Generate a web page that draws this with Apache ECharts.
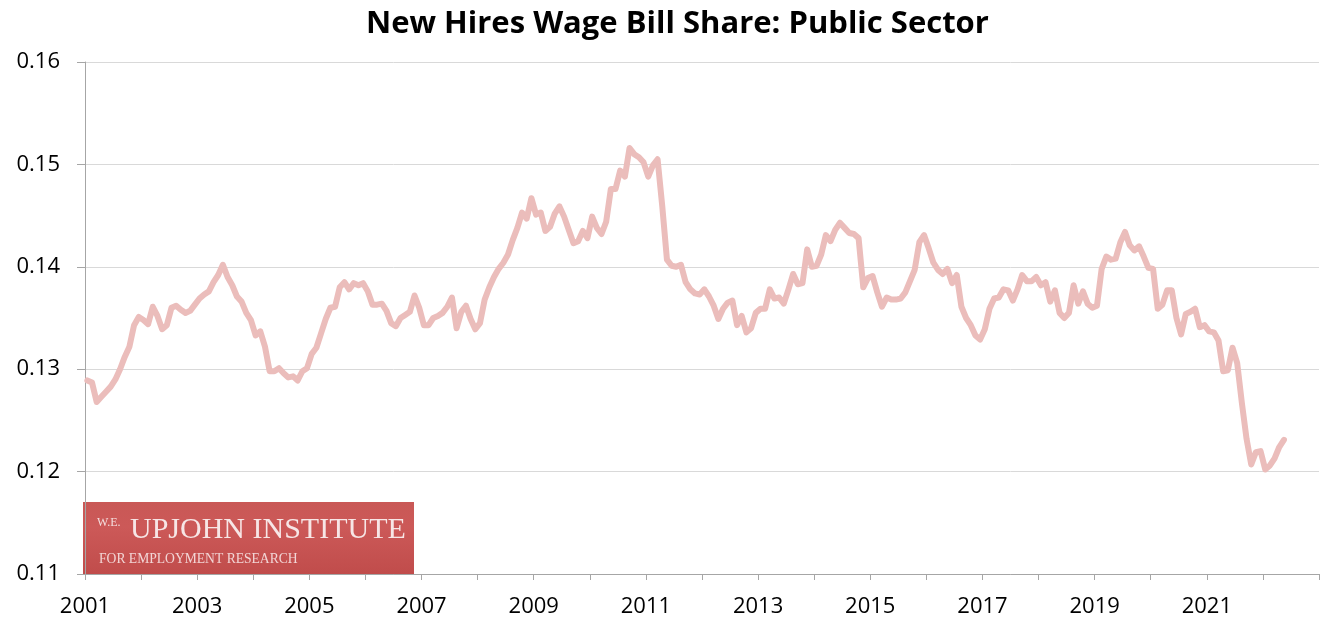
<!DOCTYPE html>
<html>
<head>
<meta charset="utf-8">
<title>New Hires Wage Bill Share: Public Sector</title>
<script src="https://cdn.jsdelivr.net/npm/echarts@6/dist/echarts.min.js"></script>
<style>
  html, body { margin: 0; padding: 0; background: #fff; }
  #main { width: 1322px; height: 621px; }
</style>
</head>
<body>
<div id="main"></div>
<script>
// monthly series, first value is January 2001 (plotted at mid-month)
var startYear = 2001
var share = [
  0.1289, 0.1287, 0.1268, 0.1273, 0.1278, 0.1283, 0.1290, 0.1300, 0.1312, 0.1322, 0.1343, 0.1351, // 2001
  0.1348, 0.1344, 0.1361, 0.1352, 0.1339, 0.1343, 0.1360, 0.1362, 0.1358, 0.1355, 0.1357, 0.1363, // 2002
  0.1369, 0.1373, 0.1376, 0.1385, 0.1392, 0.1402, 0.1390, 0.1382, 0.1371, 0.1366, 0.1355, 0.1348, // 2003
  0.1333, 0.1337, 0.1322, 0.1298, 0.1298, 0.1301, 0.1296, 0.1292, 0.1293, 0.1289, 0.1298, 0.1301, // 2004
  0.1315, 0.1321, 0.1335, 0.1349, 0.1360, 0.1361, 0.1380, 0.1385, 0.1378, 0.1384, 0.1382, 0.1384, // 2005
  0.1376, 0.1363, 0.1363, 0.1364, 0.1357, 0.1345, 0.1342, 0.1350, 0.1353, 0.1356, 0.1372, 0.1360, // 2006
  0.1343, 0.1343, 0.1350, 0.1352, 0.1355, 0.1361, 0.1370, 0.1340, 0.1356, 0.1362, 0.1349, 0.1339, // 2007
  0.1345, 0.1368, 0.1380, 0.1390, 0.1398, 0.1404, 0.1412, 0.1426, 0.1438, 0.1453, 0.1447, 0.1467, // 2008
  0.1451, 0.1453, 0.1435, 0.1439, 0.1452, 0.1459, 0.1449, 0.1436, 0.1423, 0.1425, 0.1435, 0.1428, // 2009
  0.1449, 0.1438, 0.1432, 0.1444, 0.1476, 0.1476, 0.1494, 0.1488, 0.1516, 0.1510, 0.1507, 0.1502, // 2010
  0.1488, 0.1499, 0.1505, 0.1459, 0.1407, 0.1401, 0.1400, 0.1402, 0.1385, 0.1378, 0.1374, 0.1373, // 2011
  0.1378, 0.1371, 0.1362, 0.1349, 0.1359, 0.1365, 0.1367, 0.1343, 0.1352, 0.1336, 0.1340, 0.1355, // 2012
  0.1359, 0.1359, 0.1378, 0.1369, 0.1370, 0.1364, 0.1378, 0.1393, 0.1383, 0.1384, 0.1417, 0.1400, // 2013
  0.1401, 0.1412, 0.1431, 0.1425, 0.1436, 0.1443, 0.1438, 0.1433, 0.1432, 0.1428, 0.1380, 0.1389, // 2014
  0.1391, 0.1375, 0.1361, 0.1370, 0.1368, 0.1368, 0.1369, 0.1375, 0.1386, 0.1397, 0.1424, 0.1431, // 2015
  0.1418, 0.1404, 0.1397, 0.1393, 0.1398, 0.1384, 0.1392, 0.1361, 0.1350, 0.1343, 0.1333, 0.1329, // 2016
  0.1339, 0.1359, 0.1369, 0.1370, 0.1378, 0.1377, 0.1367, 0.1378, 0.1392, 0.1386, 0.1386, 0.1390, // 2017
  0.1382, 0.1385, 0.1366, 0.1377, 0.1355, 0.1350, 0.1355, 0.1382, 0.1364, 0.1376, 0.1364, 0.1360, // 2018
  0.1362, 0.1398, 0.1410, 0.1407, 0.1408, 0.1424, 0.1434, 0.1421, 0.1416, 0.1420, 0.1410, 0.1399, // 2019
  0.1398, 0.1359, 0.1363, 0.1377, 0.1377, 0.1350, 0.1334, 0.1354, 0.1356, 0.1359, 0.1341, 0.1343, // 2020
  0.1337, 0.1336, 0.1328, 0.1298, 0.1299, 0.1321, 0.1306, 0.1267, 0.1232, 0.1207, 0.1219, 0.1220, // 2021
  0.1202, 0.1206, 0.1213, 0.1224, 0.1231                                                          // 2022
]
var yearLabels = [2001, 2003, 2005, 2007, 2009, 2011, 2013, 2015, 2017, 2019, 2021]

var points = share.map(function (v, i) {
    return [startYear + (i + 0.5) / 12, v]
})

var myEcharts = echarts.init(document.getElementById('main'))
var option = {
    animation: false,
    title: {
        text: 'New Hires Wage Bill Share: Public Sector',
        left: 361,
        top: 4,
        textStyle: {
            fontFamily: 'Open Sans',
            fontWeight: 'bold',
            fontSize: 31,
            color: '#000'
        }
    },
    grid: {
        left: 85,
        top: 62,
        width: 1240,
        height: 512
    },
    xAxis: {
        type: 'value',
        min: 2001,
        max: 2023,
        interval: 1,
        axisLine: { lineStyle: { color: '#a6a6a6', width: 1 } },
        axisTick: { show: true, length: 6, lineStyle: { color: '#a6a6a6' } },
        splitLine: { show: false },
        axisLabel: {
            color: '#000',
            fontFamily: 'Open Sans',
            fontSize: 22,
            margin: 22,
            formatter: function (v) {
                return yearLabels.indexOf(Math.round(v)) >= 0 ? String(Math.round(v)) : ''
            }
        }
    },
    yAxis: {
        type: 'value',
        min: 0.11,
        max: 0.16,
        interval: 0.01,
        axisLine: { show: true, lineStyle: { color: '#a6a6a6', width: 1 } },
        axisTick: { show: true, length: 8, lineStyle: { color: '#a6a6a6' } },
        splitLine: { show: true, lineStyle: { color: '#d9d9d9', width: 1 } },
        axisLabel: {
            color: '#000',
            fontFamily: 'Open Sans',
            fontSize: 22,
            margin: 25,
            formatter: function (v) { return v.toFixed(2) }
        }
    },
    graphic: [
        {
            type: 'group',
            left: 83,
            top: 502,
            children: [
                {
                    type: 'rect',
                    shape: { x: 0, y: 0, width: 331, height: 73 },
                    style: {
                        fill: {
                            type: 'linear', x: 0, y: 0, x2: 0, y2: 1,
                            colorStops: [
                                { offset: 0, color: '#c95856' },
                                { offset: 0.35, color: '#cc5958' },
                                { offset: 1, color: '#c04c4b' }
                            ]
                        }
                    }
                },
                {
                    type: 'text',
                    x: 14, y: 15,
                    style: { text: 'W.E.', fill: '#f4dede', font: '12px "Liberation Serif"' }
                },
                {
                    type: 'text',
                    x: 47, y: 13,
                    style: { text: 'UPJOHN INSTITUTE', fill: '#f7e6e6', font: '30px "Liberation Serif"' }
                },
                {
                    type: 'text',
                    x: 16, y: 50,
                    style: { text: 'FOR EMPLOYMENT RESEARCH', fill: '#f2d6d6', font: '13.6px "Liberation Serif"' }
                }
            ]
        }
    ],
    series: [{
        name: 'Public Sector',
        type: 'line',
        data: points,
        showSymbol: false,
        smooth: false,
        z: 3,
        lineStyle: { color: '#ebbdbb', width: 6, cap: 'round', join: 'round' }
    }]
}
myEcharts.setOption(option)
</script>
</body>
</html>
